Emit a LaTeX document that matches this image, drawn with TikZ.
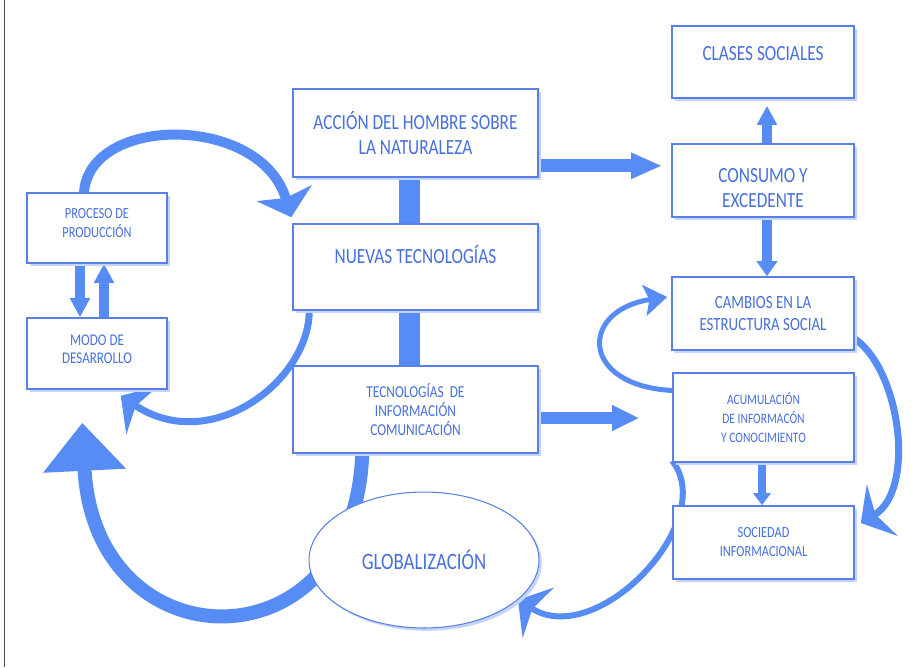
\documentclass[tikz,border=0pt]{standalone}
\usepackage{fontspec}
\setmainfont{Carlito}[FakeStretch=0.8]
\usetikzlibrary{arrows.meta,calc,shadows,backgrounds,shapes.geometric}

\definecolor{flowblue}{RGB}{87,140,245}
\definecolor{lineblue}{RGB}{88,128,230}
\definecolor{inkblue}{RGB}{72,112,220}
\definecolor{shadeblue}{RGB}{196,213,249}

\tikzset{
  box style/.style={draw=lineblue, line width=0.9pt, fill=white, text=inkblue,
    align=center, inner sep=0pt,
    drop shadow={shadow xshift=1.6pt, shadow yshift=-1.6pt, fill=shadeblue, opacity=1}},
  flow style/.style={draw=flowblue, fill=none},
  large text/.style={font=\fontsize{12.3}{14.2}\selectfont},
  small text/.style={font=\fontsize{8.8}{10.8}\selectfont},
}

\begin{document}
\begin{tikzpicture}[x=0.02cm, y=-0.02cm]
  \useasboundingbox (0,0) rectangle (918,667);
  \draw [gray!60!black, line width=1.1pt] (4.5,0) -- (4.5,667);
  % left column
  \node [box style, small text, minimum width=2.8cm, minimum height=1.4cm, text depth=0.2cm] (proceso) at (97,228) {PROCESO DE\\PRODUCCIÓN};
  \node [box style, font=\fontsize{9.3}{10.4}\selectfont, minimum width=2.8cm, minimum height=1.42cm, text depth=0.16cm] (modo) at (97,353.5) {MODO DE\\DESARROLLO};
  % middle column
  \node [box style, large text, minimum width=4.9cm, minimum height=1.76cm] (accion) at (415.5,133) {ACCIÓN DEL HOMBRE SOBRE\\LA NATURALEZA};
  \node [box style, large text, minimum width=4.9cm, minimum height=1.72cm, text height=0.28cm, text depth=0.44cm] (nuevas) at (415.5,267) {NUEVAS TECNOLOGÍAS};
  \node [box style, font=\fontsize{9.5}{10.8}\selectfont, minimum width=4.9cm, minimum height=1.74cm] (tic) at (415.5,409.5) {TECNOLOGÍAS~ DE\\INFORMACIÓN\\COMUNICACIÓN};
  \node [box style, draw=lineblue, line width=0.6pt, ellipse, font=\fontsize{13.4}{15}\selectfont, minimum width=4.6cm, minimum height=2.72cm] (glob) at (424,560) {GLOBALIZACIÓN};
  % right column
  \node [box style, large text, minimum width=3.64cm, minimum height=1.44cm, text height=0.28cm, text depth=0.36cm] (clases) at (763,62) {CLASES SOCIALES};
  \node [box style, large text, minimum width=3.64cm, minimum height=1.46cm, text height=1.06cm, text depth=0pt] (consumo) at (763,180.5) {CONSUMO Y\\EXCEDENTE};
  \node [box style, font=\fontsize{10.6}{12.3}\selectfont, minimum width=3.64cm, minimum height=1.46cm] (cambios) at (763,313.5) {CAMBIOS EN LA\\ESTRUCTURA SOCIAL};
  \node [box style, font=\fontsize{8.2}{10.8}\selectfont, minimum width=3.62cm, minimum height=1.78cm] (acumul) at (763.5,417.5) {ACUMULACIÓN\\DE INFORMACÓN\\Y CONOCIMIENTO};
  \node [box style, small text, minimum width=3.62cm, minimum height=1.46cm] (sociedad) at (763.5,542.5) {SOCIEDAD\\INFORMACIONAL};

  \begin{pgfonlayer}{background}
    % curved flows
    \draw [flow style, line width=0.2cm, -{Stealth[length=0.5cm, width=1.14cm, inset=0.1cm]}] ($(proceso.north)+(-13,0)$) .. controls +(6,-78) and +(-30,-103) .. ($(nuevas.north west)+(-1,-6)$);
    \draw [flow style, line width=0.14cm, -{Stealth[length=0.52cm, width=1.16cm, inset=0.16cm]}] ($(nuevas.south west)+(17,0)$) .. controls +(0,70) and +(90,60) .. ($(modo.south east)+(-47,6)$);
    \draw [flow style, line width=0.28cm, -{Triangle[length=0.96cm, width=1.6cm]}] ($(tic.south west)+(70,0)$) .. controls +(-8,217) and +(12,243) .. ($(modo.south west)+(56,33)$);
    \draw [flow style, line width=0.1cm, -{Stealth[length=0.46cm, width=0.62cm, inset=0.1cm]}] ($(acumul.west)+(0,-27)$) .. controls +(-93,-5) and +(-88,13) .. ($(cambios.west)+(-4,-16.5)$);
    \draw [flow style, line width=0.14cm, -{Stealth[length=0.5cm, width=1.2cm, inset=0.16cm]}] ($(cambios.south east)+(0,-12)$) .. controls +(46,32) and +(55,-33) .. ($(sociedad.east)+(6,-19.5)$);
    \draw [flow style, line width=0.12cm, -{Stealth[length=0.48cm, width=1.18cm, inset=0.14cm]}] ($(acumul.south west)+(0,-2)$) .. controls +(47,60) and +(80,50) .. (glob.-23);
    % straight flows
    \draw [flow style, line width=0.42cm] ($(accion.south)+(-6,0)$) -- ($(nuevas.north)+(-6,0)$);
    \draw [flow style, line width=0.42cm] ($(nuevas.south)+(-6,0)$) -- ($(tic.north)+(-6,0)$);
    \draw [flow style, line width=0.26cm, -{Triangle[length=0.62cm, width=0.48cm]}] ($(accion.south east)+(0,-12)$) -- ($(accion.south east -| consumo.west)+(-9,-12)$);
    \draw [flow style, line width=0.24cm, -{Triangle[length=0.54cm, width=0.48cm]}] ($(tic.east)+(0,8.5)$) -- ($(tic.east -| acumul.west)+(-33,8.5)$);
    \draw [flow style, line width=0.19cm, -{Triangle[length=0.38cm, width=0.38cm]}] ($(consumo.north)+(4,0)$) -- ($(clases.south)+(4,7)$);
    \draw [flow style, line width=0.2cm, -{Triangle[length=0.3cm, width=0.4cm]}] ($(consumo.south)+(4,0)$) -- ($(cambios.north)+(4,0)$);
    \draw [flow style, line width=0.16cm, -{Triangle[length=0.24cm, width=0.34cm]}] ($(acumul.south)+(-1.5,0)$) -- ($(sociedad.north)+(-1.5,0)$);
    \draw [flow style, line width=0.2cm, -{Triangle[length=0.38cm, width=0.38cm]}] ($(proceso.south)+(-17,0)$) -- ($(modo.north)+(-17,0)$);
    \draw [flow style, line width=0.2cm, -{Triangle[length=0.38cm, width=0.38cm]}] ($(modo.north)+(7,0)$) -- ($(proceso.south)+(7,0)$);
  \end{pgfonlayer}
\end{tikzpicture}
\end{document}
